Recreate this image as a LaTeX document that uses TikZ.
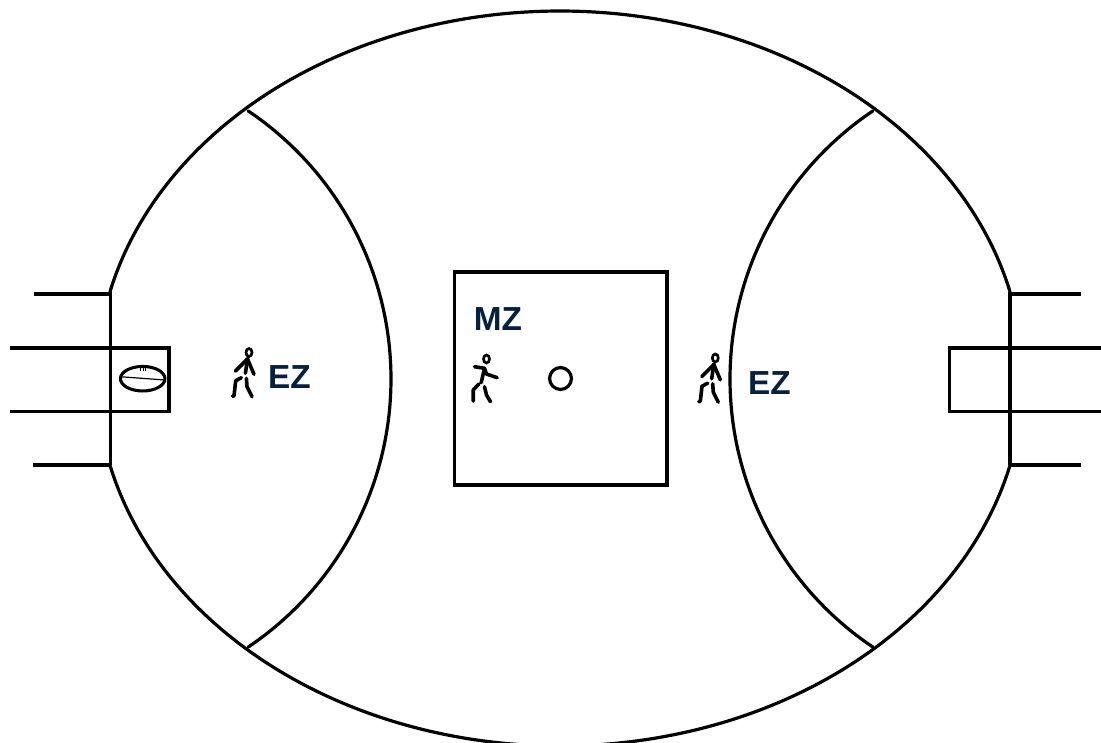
\documentclass[tikz,border=0pt]{standalone}
\usepackage{fontspec}
\setmainfont{Liberation Sans}
\definecolor{navy}{HTML}{06203F}
\tikzset{
  field/.style={line width=2.4pt,line cap=butt,line join=miter},
  curve/.style={line width=2.4pt,line cap=round,line join=round},
  figure/.style={line width=2.7pt,line cap=round,line join=round},
  head/.style={line width=2pt},
  walker/.pic={
    \draw[head] (0,0) ellipse[x radius=3,y radius=4];
    \draw[figure] (-1.5,6) -- (-3.6,20.8);
    \draw[figure] (-13.5,18.5) -- (-1.5,6.5) -- (5,21.8);
    \draw[figure] (-7.6,25.2) -- (-13.3,28.2) -- (-15,43.5) -- (-16.5,43.5);
    \draw[figure] (-2.6,25.8) -- (-2,34.2) -- (3,44.2);
  },
  runner/.pic={
    \draw[head] (0,0) ellipse[x radius=3,y radius=4];
    \draw[figure] (-2,9.3) -- (-5.3,23.7);
    \draw[figure] (-12,7.7) -- (-2,9.3) -- (0,15) -- (10.7,18.7);
    \draw[figure] (-7.7,25) -- (-13.3,31) -- (-13.3,42);
    \draw[figure] (-2,27.7) -- (0,36) -- (4,42.7);
  },
  zone/.style={text=navy,font=\bfseries\fontsize{25}{25}\selectfont,inner sep=0pt}
}
\begin{document}
\begin{tikzpicture}[x=0.75pt,y=-0.75pt]
\useasboundingbox (0,0) rectangle (1101,743);
\clip (0,0) rectangle (1101,743);
% oval
\draw[curve] plot[domain=13.6:166.4,samples=120,smooth] ({560+463*cos(\x)},{378-367*sin(\x)});
\draw[curve] plot[domain=13.6:166.4,samples=120,smooth] ({560+463*cos(\x)},{379+367*sin(\x)});
\draw[field] (110.5,292) -- (110.5,465);
\draw[field] (1010,292) -- (1010,465);
% arcs
\draw[curve] plot[domain=-56.1:56.1,samples=90,smooth] ({68+323*cos(\x)},{379+323*sin(\x)});
\draw[curve] plot[domain=-56.1:56.1,samples=90,smooth] ({1053-323*cos(\x)},{379+323*sin(\x)});
% posts
\draw[field] (34,294) -- (110.5,294);
\draw[field] (33,465) -- (110.5,465);
\draw[field] (1010,294) -- (1081,294);
\draw[field] (1010,465) -- (1081,465);
% goal squares
\draw[field] (10,348) -- (169,348) -- (169,411.5) -- (10,411.5);
\draw[field] (1101,348) -- (949.5,348) -- (949.5,411.5) -- (1101,411.5);
% centre
\draw[field] (454.5,272) rectangle (667,485);
\draw[field] (560.5,378.5) circle[radius=8.2pt];
% ball
\draw[line width=2.3pt] (142.7,378.7) ellipse[x radius=16.7pt,y radius=9.2pt];
\draw[line width=0.9pt] (120,376.7) -- (165,380);
\draw[line width=0.6pt] (140.5,367.5) -- (140.5,370.9) (143,367.5) -- (143,370.9) (145.5,367.5) -- (145.5,370.9);
% players
\pic at (249,352.5) {walker};
\pic at (715.3,358) {walker};
\pic at (486.5,359) {runner};
% labels
\node[zone] (ezl) at (289.5,377) {EZ};
\node[zone] (ezr) at (769.5,383) {EZ};
\node[zone] (mz) at (498,319) {MZ};
\end{tikzpicture}
\end{document}
